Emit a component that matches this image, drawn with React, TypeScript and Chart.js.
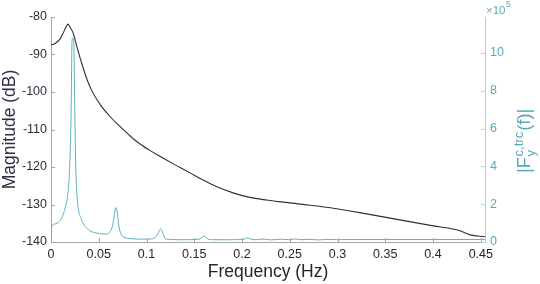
import React, { useEffect, useRef } from "react";
import { Chart, registerables } from "chart.js";

Chart.register(...registerables);

// ---- data ----
const X_MAX = 0.4544;
const xTickValues = [0, 0.05, 0.1, 0.15, 0.2, 0.25, 0.3, 0.35, 0.4, 0.45];
const magTickValues = [-140, -130, -120, -110, -100, -90, -80];
const forceTickValues = [0, 2, 4, 6, 8, 10]; // x 10^5

// Magnitude (dB) curve
const magFreq = [
  0, 0.0047, 0.01, 0.0134, 0.0159, 0.0176, 0.0197, 0.0218, 0.0239, 0.0275,
  0.0327, 0.0379, 0.0432, 0.0519, 0.0606, 0.0694, 0.0753, 0.0868, 0.0928, 0.1043,
  0.1103, 0.1277, 0.1452, 0.1557, 0.1732, 0.1906, 0.2081, 0.2256, 0.261, 0.2954,
  0.3304, 0.3653, 0.4002, 0.4282, 0.4387, 0.4544,
];
const magDb = [
  -87.5, -87.0, -85.7, -83.9, -82.6, -81.9, -82.6, -83.5, -84.8, -88.3,
  -92.8, -96.8, -99.9, -103.5, -106.2, -108.5, -109.9, -112.6, -113.8, -115.7,
  -116.6, -119.1, -121.5, -123.0, -125.2, -126.9, -128.1, -128.8, -129.9, -131.0,
  -132.5, -134.1, -135.7, -137.0, -138.1, -138.6,
];

// |F_y^{c,trc}(f)| curve, in units of 10^5
const forceFreq = [
  0, 0.0008, 0.004, 0.009, 0.012, 0.0148, 0.0175, 0.0196, 0.0211, 0.022,
  0.0229, 0.0239, 0.0249, 0.0259, 0.0276, 0.0315, 0.038, 0.048, 0.058, 0.062,
  0.065, 0.0668, 0.0678, 0.0692, 0.0712, 0.075, 0.085, 0.1, 0.108, 0.112,
  0.1148, 0.1172, 0.12, 0.14, 0.155, 0.159, 0.161, 0.163, 0.168, 0.185,
  0.2, 0.204, 0.206, 0.209, 0.215, 0.222, 0.23, 0.24, 0.25, 0.256,
  0.262, 0.27, 0.28, 0.29, 0.3, 0.31, 0.32, 0.35, 0.4, 0.4544,
];
const forceAmp = [
  0, 0.8, 0.95, 1.1, 1.35, 1.8, 2.5, 4.0, 7.0, 10.6,
  10.8, 10.5, 7.0, 4.0, 2.2, 1.25, 0.7, 0.47, 0.42, 0.55,
  1.0, 1.6, 1.82, 1.6, 0.8, 0.3, 0.17, 0.15, 0.2, 0.45,
  0.7, 0.45, 0.16, 0.12, 0.15, 0.28, 0.32, 0.2, 0.12, 0.12,
  0.13, 0.18, 0.22, 0.15, 0.12, 0.16, 0.11, 0.15, 0.12, 0.16,
  0.12, 0.14, 0.11, 0.14, 0.12, 0.13, 0.13, 0.13, 0.13, 0.13,
];

// ---- style ----
const FONT = "'Liberation Sans', Arial, Helvetica, sans-serif";
const NAVY = "#2c2e43";
const TEAL_LINE = "#5cb0bd";
const TEAL_TEXT = "#57a9b8";
const TEAL_AXIS = "#a9d6dd";
const GRAY_AXIS = "#a6a6a6";
const TEXT_DARK = "#262626";

const fmt = (v: number) => String(Math.round(v * 100) / 100);

const decor = {
  id: "decor",
  afterDraw(chart: any) {
    const ctx = chart.ctx as CanvasRenderingContext2D;
    const area = chart.chartArea;
    const sx = chart.scales.x;
    const sy = chart.scales.y;
    const sy1 = chart.scales.y1;
    ctx.save();
    ctx.lineWidth = 1;
    // inward ticks
    ctx.strokeStyle = GRAY_AXIS;
    ctx.beginPath();
    for (const v of xTickValues) {
      const px = Math.round(sx.getPixelForValue(v)) + 0.5;
      ctx.moveTo(px, area.bottom);
      ctx.lineTo(px, area.bottom - 4);
    }
    for (const v of magTickValues) {
      const py = Math.round(sy.getPixelForValue(v)) + 0.5;
      ctx.moveTo(area.left, py);
      ctx.lineTo(area.left + 4, py);
    }
    ctx.stroke();
    ctx.strokeStyle = TEAL_AXIS;
    ctx.beginPath();
    for (const v of forceTickValues) {
      const py = Math.round(sy1.getPixelForValue(v)) + 0.5;
      ctx.moveTo(area.right, py);
      ctx.lineTo(area.right - 4, py);
    }
    ctx.stroke();

    // x title
    ctx.fillStyle = TEXT_DARK;
    ctx.font = `17.5px ${FONT}`;
    ctx.textAlign = "center";
    ctx.textBaseline = "alphabetic";
    ctx.fillText("Frequency (Hz)", (area.left + area.right) / 2, 277);

    // left title
    ctx.save();
    ctx.fillStyle = NAVY;
    ctx.translate(14.5, (area.top + area.bottom) / 2);
    ctx.rotate(-Math.PI / 2);
    ctx.fillText("Magnitude (dB)", 0, 0);
    ctx.restore();

    // right title |F_y^{c,trc}(f)|
    ctx.save();
    ctx.fillStyle = TEAL_TEXT;
    ctx.translate(530, 173);
    ctx.rotate(-Math.PI / 2);
    ctx.textAlign = "left";
    ctx.font = `18.5px ${FONT}`;
    let cx = 0;
    ctx.fillText("|F", cx, 0);
    cx += ctx.measureText("|F").width;
    ctx.font = `13px ${FONT}`;
    ctx.fillText("c,trc", cx + 0.5, -7.5);
    const wsup = ctx.measureText("c,trc").width;
    ctx.fillText("y", cx + 0.5, 4.5);
    const wsub = ctx.measureText("y").width;
    cx += Math.max(wsup, wsub) + 1.5;
    ctx.font = `18.5px ${FONT}`;
    ctx.fillText("(f)|", cx, 0);
    ctx.restore();

    // x10^5 exponent label
    ctx.fillStyle = TEAL_TEXT;
    ctx.textAlign = "left";
    ctx.font = `11.5px ${FONT}`;
    ctx.fillText("\u00d710", 486, 14);
    const w = ctx.measureText("\u00d710").width;
    ctx.font = `8.5px ${FONT}`;
    ctx.fillText("5", 486 + w + 0.5, 7);
    ctx.restore();
  },
};

export default function App() {
  const ref = useRef<HTMLCanvasElement>(null);
  useEffect(() => {
    const chart = new Chart(ref.current as HTMLCanvasElement, {
      type: "line",
      data: {
        datasets: [
          {
            label: "|F_y^{c,trc}(f)|",
            data: forceFreq.map((f, i) => ({ x: f, y: forceAmp[i] })),
            yAxisID: "y1",
            borderColor: TEAL_LINE,
            borderWidth: 1,
            pointRadius: 0,
            cubicInterpolationMode: "monotone",
            order: 0,
          },
          {
            label: "Magnitude",
            data: magFreq.map((f, i) => ({ x: f, y: magDb[i] })),
            yAxisID: "y",
            borderColor: NAVY,
            borderWidth: 1.1,
            pointRadius: 0,
            cubicInterpolationMode: "monotone",
            order: 1,
          },
        ],
      },
      options: {
        animation: false,
        responsive: true,
        maintainAspectRatio: false,
        layout: { padding: { top: 17, left: 0, right: 0, bottom: 0 } },
        plugins: { legend: { display: false }, tooltip: { enabled: false } },
        scales: {
          x: {
            type: "linear",
            position: "bottom",
            min: 0,
            max: X_MAX,
            afterBuildTicks: (s: any) => {
              s.ticks = xTickValues.map((v) => ({ value: v }));
            },
            afterFit: (s: any) => {
              s.height = 42;
            },
            ticks: {
              callback: (v: any) => fmt(Number(v)),
              font: { size: 12.5, family: FONT },
              color: TEXT_DARK,
              padding: 5,
              maxRotation: 0,
              autoSkip: false,
            },
            grid: { drawOnChartArea: false, drawTicks: false },
            border: { display: true, color: GRAY_AXIS },
          },
          y: {
            type: "linear",
            position: "left",
            min: -140,
            max: -80,
            afterBuildTicks: (s: any) => {
              s.ticks = magTickValues.map((v) => ({ value: v }));
            },
            afterFit: (s: any) => {
              s.width = 51;
            },
            ticks: {
              callback: (v: any) => String(v),
              font: { size: 12.5, family: FONT },
              color: "#2e2f3c",
              padding: 4,
              autoSkip: false,
            },
            grid: { drawOnChartArea: false, drawTicks: false },
            border: { display: true, color: GRAY_AXIS },
          },
          y1: {
            type: "linear",
            position: "right",
            min: 0,
            max: 11.9,
            afterBuildTicks: (s: any) => {
              s.ticks = forceTickValues.map((v) => ({ value: v }));
            },
            afterFit: (s: any) => {
              s.width = 55;
            },
            ticks: {
              callback: (v: any) => String(v),
              font: { size: 12.5, family: FONT },
              color: TEAL_TEXT,
              padding: 5,
              autoSkip: false,
            },
            grid: { drawOnChartArea: false, drawTicks: false },
            border: { display: true, color: TEAL_AXIS },
          },
        },
      },
      plugins: [decor],
    } as any);
    return () => chart.destroy();
  }, []);
  return (
    <div style={{ position: "absolute", left: 0, top: 0, width: 540, height: 284 }}>
      <canvas ref={ref} />
    </div>
  );
}
